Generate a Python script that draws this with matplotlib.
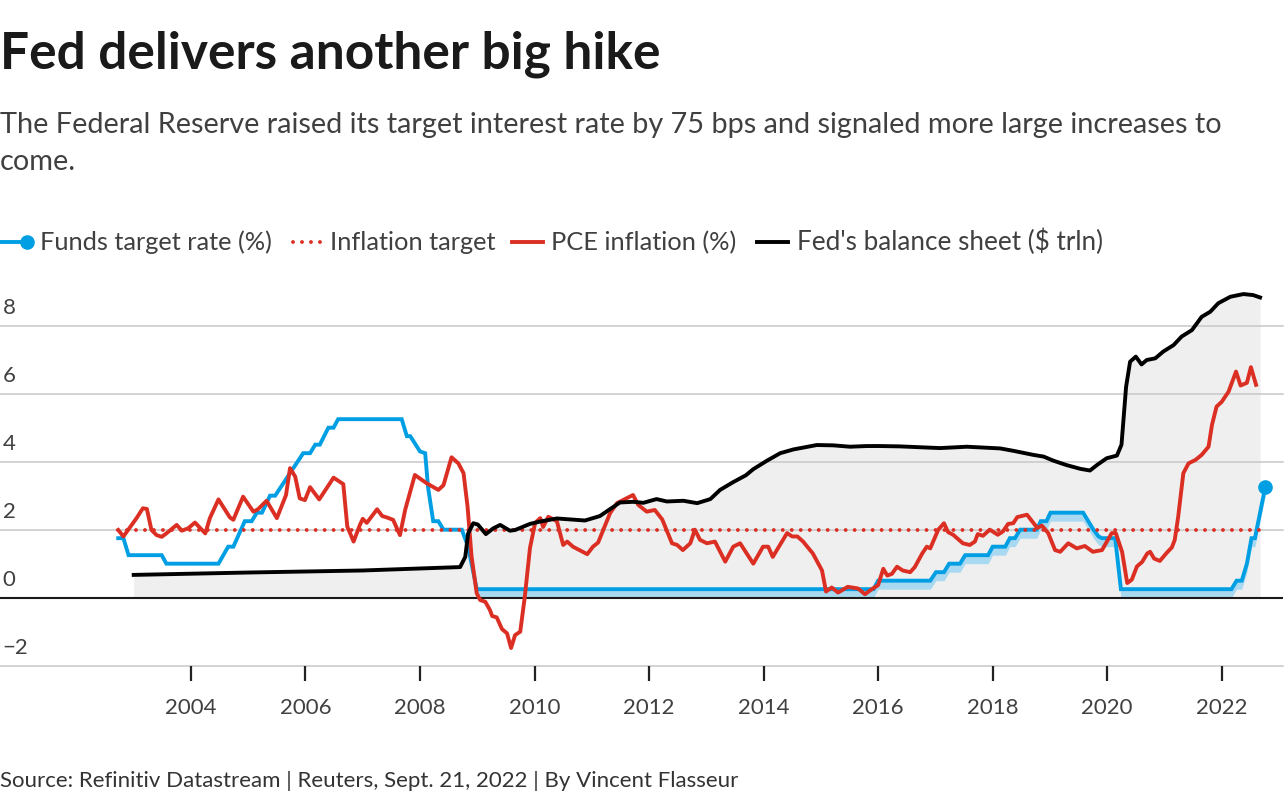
import matplotlib
matplotlib.use("Agg")
import matplotlib.pyplot as plt
from matplotlib.lines import Line2D
from matplotlib import transforms

plt.rcParams['font.family'] = ['Lato', 'DejaVu Sans']

# Fed funds target rate (%), single target until end of 2008
funds_years = [2002.73, 2002.82, 2002.91, 2003.49, 2003.57, 2004.48, 2004.65, 2004.74,
               2004.94, 2005.06, 2005.15, 2005.24, 2005.38, 2005.47, 2005.96, 2006.08,
               2006.17, 2006.25, 2006.40, 2006.49, 2006.57, 2007.68, 2007.77, 2007.83,
               2008.00, 2008.09, 2008.14, 2008.23, 2008.32, 2008.41, 2008.73, 2008.84]
funds_rate = [1.75, 1.75, 1.25, 1.25, 1.00, 1.00, 1.50, 1.50,
              2.25, 2.25, 2.50, 2.50, 3.00, 3.00, 4.25, 4.25,
              4.50, 4.50, 5.00, 5.00, 5.25, 5.25, 4.75, 4.75,
              4.30, 4.25, 3.25, 2.25, 2.25, 2.00, 2.00, 1.50]

# target range era (upper / lower bound, %)
range_years = [2008.99, 2015.92, 2016.00, 2016.91, 2017.01, 2017.15, 2017.24, 2017.43,
               2017.52, 2017.92, 2018.00, 2018.22, 2018.30, 2018.39, 2018.48, 2018.77,
               2018.84, 2018.94, 2019.01, 2019.58, 2019.76, 2019.85, 2019.91, 2020.14,
               2020.24, 2022.17, 2022.26, 2022.35, 2022.44, 2022.52, 2022.58, 2022.67,
               2022.76]
range_upper = [0.25, 0.25, 0.50, 0.50, 0.75, 0.75, 1.00, 1.00,
               1.25, 1.25, 1.50, 1.50, 1.75, 1.75, 2.00, 2.00,
               2.25, 2.25, 2.50, 2.50, 2.00, 1.80, 1.75, 1.75,
               0.25, 0.25, 0.50, 0.50, 1.00, 1.75, 1.75, 2.50,
               3.25]
range_lower = [0.00, 0.00, 0.25, 0.25, 0.50, 0.50, 0.75, 0.75,
               1.00, 1.00, 1.25, 1.25, 1.50, 1.50, 1.75, 1.75,
               2.00, 2.00, 2.25, 2.25, 1.75, 1.55, 1.50, 1.50,
               0.00, 0.00, 0.25, 0.25, 0.75, 1.50, 1.50, 2.25,
               3.00]

# inflation target (%)
target_years = [2002.73, 2022.76]
target_value = [2.0, 2.0]

# PCE inflation, year on year (%)
pce_years = [2002.73, 2002.82, 2003.05, 2003.16, 2003.23, 2003.31, 2003.40, 2003.49,
             2003.57, 2003.75, 2003.84, 2003.95, 2004.07, 2004.25, 2004.33, 2004.48,
             2004.68, 2004.74, 2004.91, 2005.09, 2005.17, 2005.32, 2005.50, 2005.66,
             2005.73, 2005.82, 2005.90, 2005.99, 2006.08, 2006.24, 2006.49, 2006.66,
             2006.73, 2006.84, 2006.95, 2007.00, 2007.07, 2007.25, 2007.34, 2007.42,
             2007.53, 2007.65, 2007.74, 2007.91, 2008.12, 2008.32, 2008.41, 2008.55,
             2008.67, 2008.76, 2008.83, 2008.90, 2008.99, 2009.05, 2009.14, 2009.22,
             2009.26, 2009.34, 2009.43, 2009.52, 2009.59, 2009.66, 2009.75, 2009.83,
             2009.92, 2010.01, 2010.10, 2010.15, 2010.24, 2010.39, 2010.50, 2010.57,
             2010.67, 2010.92, 2011.02, 2011.11, 2011.32, 2011.44, 2011.72, 2011.81,
             2011.96, 2012.10, 2012.23, 2012.40, 2012.49, 2012.59, 2012.72, 2012.80,
             2012.89, 2013.01, 2013.15, 2013.33, 2013.47, 2013.59, 2013.82, 2013.99,
             2014.08, 2014.16, 2014.41, 2014.50, 2014.59, 2014.69, 2014.86, 2015.02,
             2015.09, 2015.19, 2015.30, 2015.47, 2015.65, 2015.77, 2015.89, 2016.00,
             2016.09, 2016.16, 2016.24, 2016.33, 2016.43, 2016.56, 2016.64, 2016.77,
             2016.85, 2016.91, 2017.05, 2017.15, 2017.22, 2017.31, 2017.48, 2017.60,
             2017.69, 2017.74, 2017.83, 2017.95, 2018.09, 2018.18, 2018.27, 2018.36,
             2018.43, 2018.60, 2018.78, 2018.86, 2018.97, 2019.09, 2019.18, 2019.32,
             2019.47, 2019.61, 2019.75, 2019.91, 2020.08, 2020.15, 2020.26, 2020.35,
             2020.43, 2020.52, 2020.61, 2020.70, 2020.75, 2020.82, 2020.92, 2021.04,
             2021.13, 2021.18, 2021.24, 2021.33, 2021.42, 2021.54, 2021.65, 2021.77,
             2021.83, 2021.91, 2022.00, 2022.12, 2022.25, 2022.33, 2022.44, 2022.51,
             2022.60]
pce_values = [1.99, 1.80, 2.34, 2.63, 2.61, 1.99, 1.84, 1.79,
              1.89, 2.14, 1.97, 2.04, 2.21, 1.89, 2.34, 2.89,
              2.36, 2.29, 2.97, 2.53, 2.60, 2.85, 2.34, 3.02,
              3.81, 3.56, 2.92, 2.87, 3.25, 2.89, 3.53, 3.34,
              2.09, 1.65, 2.14, 2.32, 2.20, 2.60, 2.40, 2.36,
              2.29, 1.84, 2.58, 3.61, 3.36, 3.17, 3.31, 4.13,
              3.95, 3.66, 2.68, 1.21, 0.13, -0.07, -0.12, -0.36,
              -0.54, -0.58, -0.92, -1.05, -1.48, -1.10, -1.00, 0.03,
              1.46, 2.20, 2.34, 2.08, 2.38, 2.25, 1.55, 1.65,
              1.50, 1.28, 1.50, 1.62, 2.49, 2.78, 3.02, 2.73,
              2.53, 2.58, 2.30, 1.60, 1.55, 1.40, 1.60, 2.00,
              1.70, 1.60, 1.65, 1.06, 1.50, 1.60, 1.00, 1.50,
              1.50, 1.20, 1.90, 1.80, 1.80, 1.65, 1.30, 0.80,
              0.18, 0.30, 0.15, 0.32, 0.27, 0.10, 0.25, 0.37,
              0.85, 0.65, 0.70, 0.91, 0.80, 0.75, 0.90, 1.30,
              1.50, 1.45, 2.00, 2.19, 1.93, 1.85, 1.60, 1.55,
              1.65, 1.87, 1.82, 2.00, 1.85, 1.95, 2.17, 2.19,
              2.37, 2.44, 2.05, 2.12, 1.90, 1.40, 1.35, 1.60,
              1.45, 1.52, 1.35, 1.40, 1.90, 1.90, 1.35, 0.43,
              0.53, 0.92, 1.05, 1.30, 1.35, 1.15, 1.08, 1.32,
              1.48, 1.70, 2.38, 3.66, 3.95, 4.05, 4.20, 4.44,
              5.08, 5.62, 5.76, 6.06, 6.65, 6.24, 6.32, 6.78,
              6.26]

# Fed's balance sheet ($ trln)
bs_years = [2003.00, 2005.00, 2007.00, 2008.70, 2008.79, 2008.84, 2008.93, 2009.01,
            2009.15, 2009.28, 2009.40, 2009.57, 2009.66, 2009.92, 2010.10, 2010.39,
            2010.88, 2011.14, 2011.49, 2011.72, 2011.90, 2012.13, 2012.31, 2012.60,
            2012.84, 2013.07, 2013.24, 2013.47, 2013.69, 2013.82, 2014.06, 2014.29,
            2014.52, 2014.93, 2015.22, 2015.51, 2015.80, 2016.03, 2016.38, 2017.08,
            2017.55, 2018.13, 2018.36, 2018.71, 2018.89, 2019.06, 2019.29, 2019.53,
            2019.70, 2019.82, 2019.99, 2020.17, 2020.25, 2020.33, 2020.40, 2020.50,
            2020.60, 2020.69, 2020.84, 2020.98, 2021.16, 2021.30, 2021.48, 2021.65,
            2021.80, 2021.94, 2022.15, 2022.38, 2022.55, 2022.67]
bs_values = [0.67, 0.74, 0.80, 0.90, 1.20, 1.89, 2.19, 2.15,
             1.87, 2.04, 2.14, 1.97, 1.99, 2.17, 2.24, 2.33,
             2.27, 2.40, 2.80, 2.82, 2.79, 2.90, 2.83, 2.85,
             2.78, 2.90, 3.17, 3.40, 3.60, 3.78, 4.03, 4.25,
             4.36, 4.49, 4.48, 4.44, 4.46, 4.46, 4.45, 4.40,
             4.44, 4.39, 4.32, 4.20, 4.15, 4.03, 3.90, 3.79,
             3.74, 3.90, 4.10, 4.18, 4.50, 6.20, 6.94, 7.09,
             6.86, 6.99, 7.04, 7.24, 7.43, 7.68, 7.87, 8.26,
             8.41, 8.66, 8.85, 8.93, 8.90, 8.83]

year_ticks = list(range(2004, 2023, 2))
y_ticks = [-2, 0, 2, 4, 6, 8]

BLUE = '#009fe3'
BAND = '#a9d9f1'
RED = '#dc2f24'
BLACK = '#000000'
TEXT = '#404040'

fig = plt.figure(figsize=(12.88, 8), dpi=100)
ax = fig.add_axes([0, 0.1679, 0.9961, 0.476])
ax.set_xlim(2000.665, 2023.07)
ax.set_ylim(-2, 9.2)

# balance sheet area + gridlines
ax.fill_between(bs_years, 0, bs_values, color='#efefef', lw=0, zorder=0)
ylab = transforms.blended_transform_factory(ax.transAxes, ax.transData)
for v in y_ticks:
    if v != 0:
        ax.axhline(v, color='#c8c8c8', lw=1.1, zorder=0.5, clip_on=False)
    lbl = '\u22122' if v < 0 else str(v)
    ax.text(0.002, v + 0.22, lbl, transform=ylab, ha='left', va='bottom',
            fontsize=16, color=TEXT)

# target range band
ax.fill_between(range_years, range_lower, range_upper, color=BAND, lw=0, zorder=1)
ax.axhline(0, color='#1a1a1a', lw=1.5, zorder=2)

ax.plot(funds_years + range_years, funds_rate + range_upper, color=BLUE, lw=2.8,
        solid_joinstyle='miter', zorder=3)
ax.plot(range_years[-1:], range_upper[-1:], 'o', color=BLUE, ms=9.5, zorder=3)
ax.plot(target_years, target_value, color=RED, lw=2.8, dashes=[0.01, 2.3],
        dash_capstyle='round', zorder=4)
ax.plot(pce_years, pce_values, color=RED, lw=2.8, zorder=4)
ax.plot(bs_years, bs_values, color=BLACK, lw=2.8, zorder=5)

for s in ax.spines.values():
    s.set_visible(False)
ax.set_yticks([])
ax.set_xticks(year_ticks)
ax.set_xticklabels([str(y) for y in year_ticks])
ax.tick_params(axis='x', length=11, width=1.6, color='#222222', pad=12,
               labelsize=16, labelcolor=TEXT)

# titles
fig.text(0.0, 1 - 68 / 800, 'Fed delivers another big hike', fontsize=37,
         fontweight='bold', color='#1a1a1a', va='baseline')
fig.text(0.0, 1 - 170 / 800,
         'The Federal Reserve raised its target interest rate by 75 bps and signaled more large increases to\ncome.',
         fontsize=20.8, color=TEXT, va='baseline', linespacing=1.5)

# legend
ly = 1 - 242 / 800
tb = 1 - 250 / 800
W = 1288.0
fig.add_artist(Line2D([0, 27 / W], [ly, ly], color=BLUE, lw=2.8))
fig.add_artist(Line2D([27 / W], [ly], marker='o', color=BLUE, ms=9.5))
fig.text(40 / W, tb, 'Funds target rate (%)', fontsize=18.3, color=TEXT, va='baseline')
fig.add_artist(Line2D([293 / W, 322 / W], [ly, ly], color=RED, lw=2.8,
                      dashes=[0.01, 2.3], dash_capstyle='round'))
fig.text(330 / W, tb, 'Inflation target', fontsize=18.3, color=TEXT, va='baseline')
fig.add_artist(Line2D([512 / W, 543 / W], [ly, ly], color=RED, lw=2.8))
fig.text(551 / W, tb, 'PCE inflation (%)', fontsize=18.3, color=TEXT, va='baseline')
fig.add_artist(Line2D([757 / W, 788 / W], [ly, ly], color=BLACK, lw=2.8))
fig.text(797 / W, tb, "Fed's balance sheet ($ trln)", fontsize=18.8, color=TEXT,
         va='baseline')

fig.text(0.0, 1 - 787 / 800,
         'Source: Refinitiv Datastream | Reuters, Sept. 21, 2022 | By Vincent Flasseur',
         fontsize=16, color='#333333', va='baseline')

fig.savefig('out.png', dpi=100)
